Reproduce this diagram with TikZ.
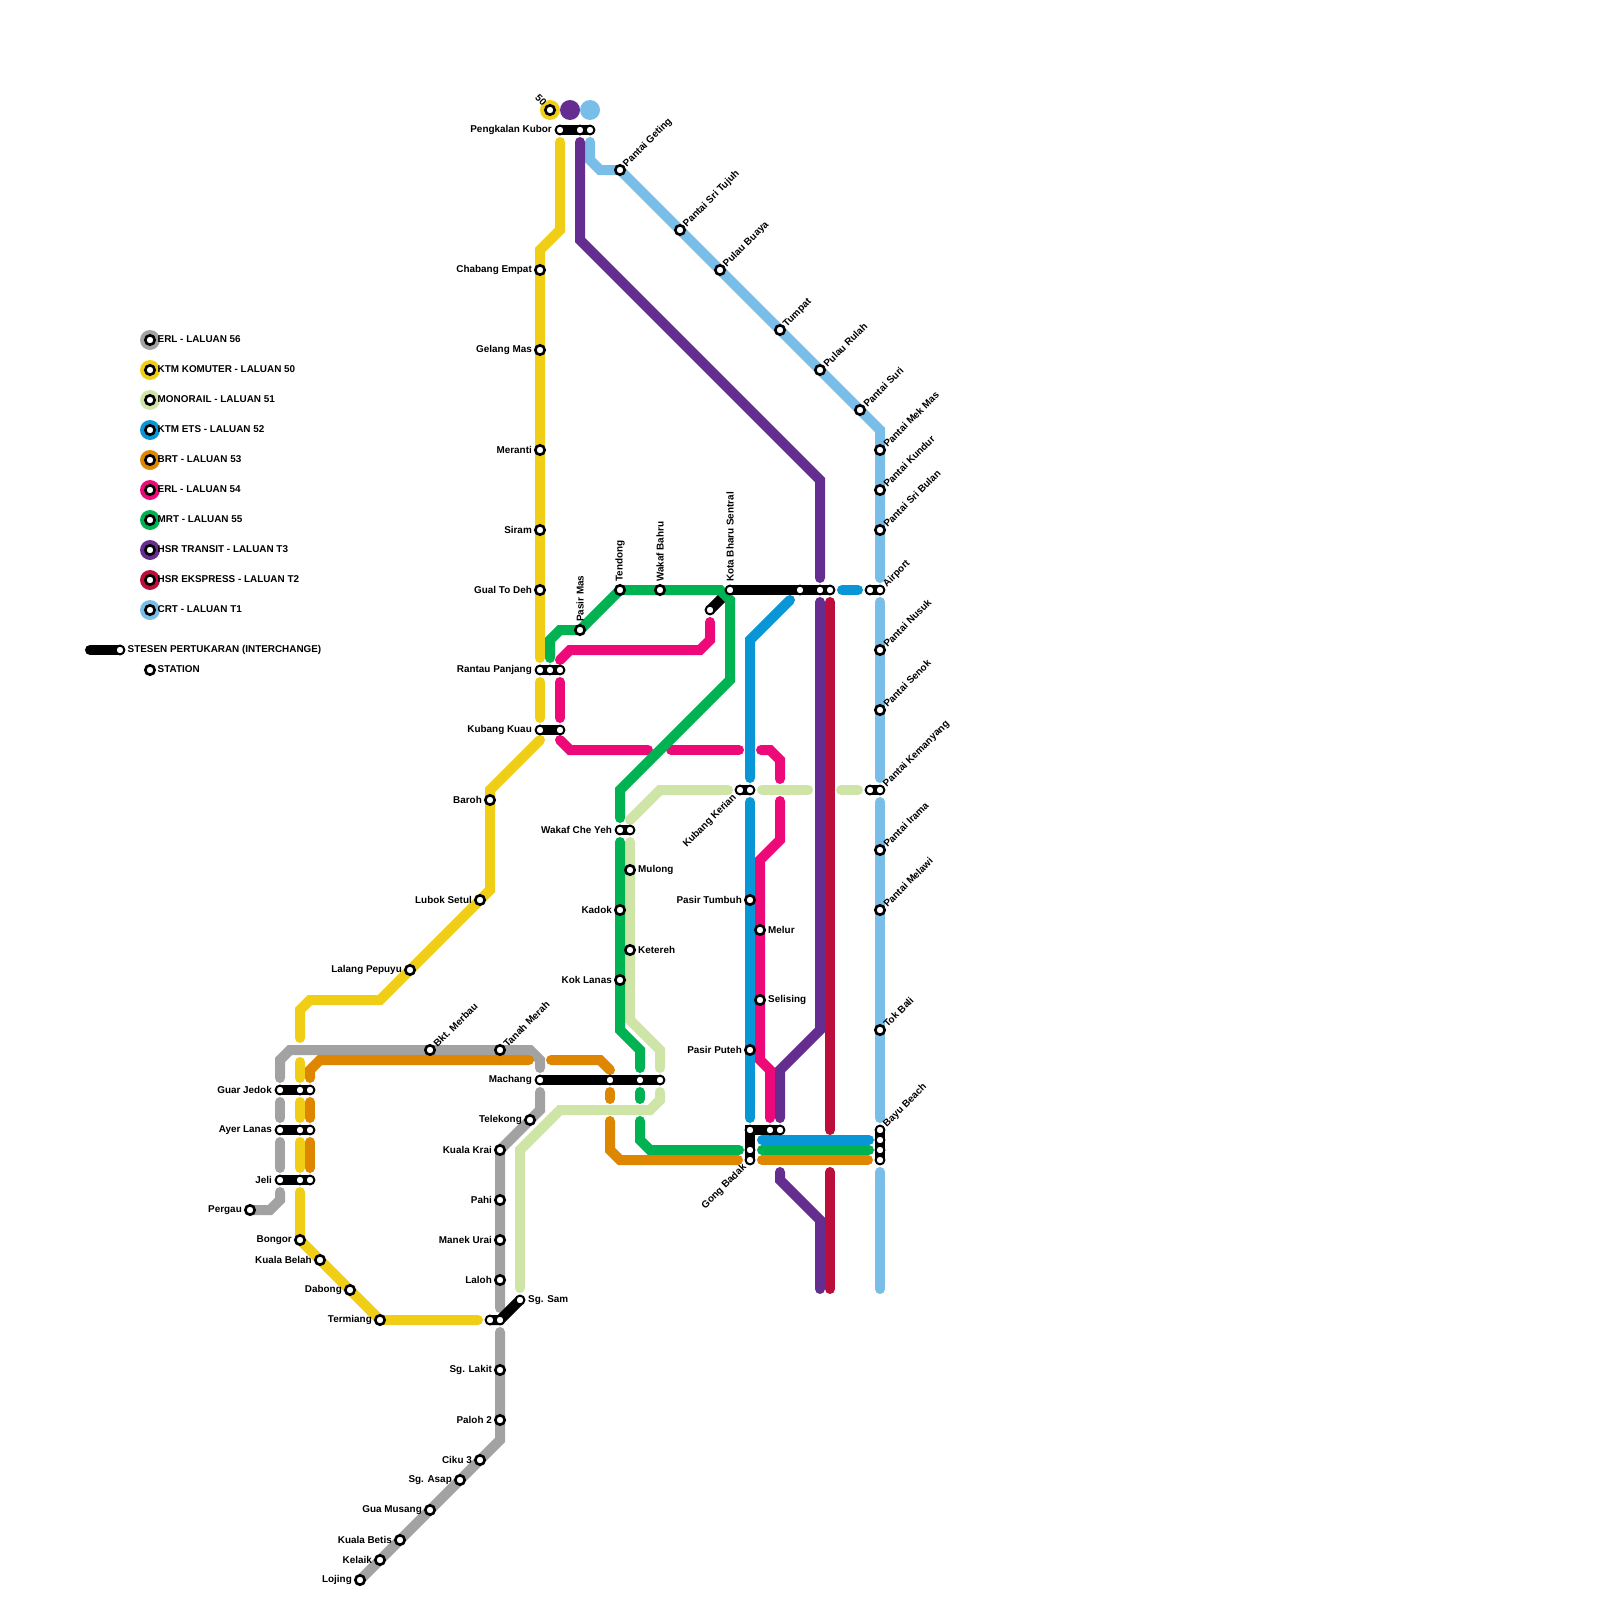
\documentclass[tikz,border=0pt]{standalone}
\usepackage{fontspec}
\setmainfont{Liberation Sans}
\usetikzlibrary{calc}
\pgfdeclarelayer{lines}
\pgfsetlayers{lines,main}
\definecolor{cyel}{HTML}{F0CE15}
\definecolor{cgry}{HTML}{A2A2A2}
\definecolor{clgr}{HTML}{CFE4A7}
\definecolor{cblu}{HTML}{0896D7}
\definecolor{cora}{HTML}{DF8600}
\definecolor{cmag}{HTML}{EE0979}
\definecolor{cgrn}{HTML}{00B251}
\definecolor{cpur}{HTML}{662D91}
\definecolor{ccri}{HTML}{BB0E3A}
\definecolor{clbl}{HTML}{79BDE9}
\tikzset{
  rail/.style={line width=10pt,line cap=round,line join=miter,miter limit=10},
  link/.style={rail,draw=black},
  stn/.style={circle,draw=black,line width=2.6pt,fill=white,minimum size=9.4pt,inner sep=0pt,outer sep=0pt},
  xstn/.style={circle,draw=black,line width=2pt,fill=white,minimum size=8.8pt,inner sep=0pt,outer sep=0pt},
  swatch/.style={circle,minimum size=20pt,inner sep=0pt,outer sep=0pt},
  txt/.style={font=\bfseries\fontsize{9.9pt}{11pt}\selectfont,inner sep=0pt,text=black},
  lblL/.style={txt,anchor=east},
  lblR/.style={txt,anchor=west},
  lblV/.style={txt,anchor=west,rotate=90},
  lblD/.style={txt,anchor=west,rotate=45},
  lblB/.style={txt,anchor=east,rotate=45},
}
\def\sU#1{($(#1.center)+(0,-12)$)}
\def\sD#1{($(#1.center)+(0,12)$)}
\def\sL#1{($(#1.center)+(-12,0)$)}
\def\sR#1{($(#1.center)+(12,0)$)}
% station macros: id, x, y, text
\newcommand{\SL}[4]{\node[stn] (#1) at (#2,#3) {}; \node[lblL] (#1-t) at (#2-8,#3-0.3) {#4};}
\newcommand{\XL}[4]{\node[xstn] (#1) at (#2,#3) {}; \node[lblL] (#1-t) at (#2-8,#3-0.3) {#4};}
\newcommand{\SR}[4]{\node[stn] (#1) at (#2,#3) {}; \node[lblR] (#1-t) at (#2+8,#3-0.3) {#4};}
\newcommand{\XR}[4]{\node[xstn] (#1) at (#2,#3) {}; \node[lblR] (#1-t) at (#2+8,#3-0.3) {#4};}
\newcommand{\SV}[4]{\node[stn] (#1) at (#2,#3) {}; \node[lblV] (#1-t) at (#2,#3-8) {#4};}
\newcommand{\XV}[4]{\node[xstn] (#1) at (#2,#3) {}; \node[lblV] (#1-t) at (#2,#3-8) {#4};}
\newcommand{\SD}[4]{\node[stn] (#1) at (#2,#3) {}; \node[lblD] (#1-t) at (#2+5,#3-4.5) {#4};}
\newcommand{\XD}[4]{\node[xstn] (#1) at (#2,#3) {}; \node[lblD] (#1-t) at (#2+5,#3-4.5) {#4};}
\newcommand{\XB}[4]{\node[xstn] (#1) at (#2,#3) {}; \node[lblB] (#1-t) at (#2-5,#3+6) {#4};}
\newcommand{\XX}[3]{\node[xstn] (#1) at (#2,#3) {};}
\newcommand{\LEG}[4]{\node[swatch,fill=#2] (#1-s) at (150,#3) {}; \node[stn] (#1) at (150,#3) {}; \node[lblR] (#1-t) at (157.5,#3-0.5) {#4};}
\begin{document}
\begin{tikzpicture}[x=1pt,y=-1pt]
\useasboundingbox (0,0) rectangle (1600,1600);
% legend
\LEG{l1}{cgry}{340}{ERL - LALUAN 56}
\LEG{l2}{cyel}{370}{KTM KOMUTER - LALUAN 50}
\LEG{l3}{clgr}{400}{MONORAIL - LALUAN 51}
\LEG{l4}{cblu}{430}{KTM ETS - LALUAN 52}
\LEG{l5}{cora}{460}{BRT - LALUAN 53}
\LEG{l6}{cmag}{490}{ERL - LALUAN 54}
\LEG{l7}{cgrn}{520}{MRT - LALUAN 55}
\LEG{l8}{cpur}{550}{HSR TRANSIT - LALUAN T3}
\LEG{l9}{ccri}{580}{HSR EKSPRESS - LALUAN T2}
\LEG{l10}{clbl}{610}{CRT - LALUAN T1}
\coordinate (lx) at (90,650);
\XX{lxe}{120}{650}
\node[lblR] (lxe-t) at (127.5,649.5) {STESEN PERTUKARAN (INTERCHANGE)};
\node[stn] (lst) at (150,670) {};
\node[lblR] (lst-t) at (157.5,669.5) {STATION};
% terminal swatches
\node[swatch,fill=cyel] (t1) at (550,110) {};
\node[swatch,fill=cpur] (t2) at (570,110) {};
\node[swatch,fill=clbl] (t3) at (590,110) {};
\node[stn] (t1s) at (550,110) {};
\node[txt,rotate=-45] (t1t) at (541,100) {50};
% yellow / north
\XL{pk}{560}{130}{Pengkalan Kubor}
\XX{pk2}{580}{130}
\XX{pk3}{590}{130}
\SL{chabang}{540}{270}{Chabang Empat}
\SL{gelang}{540}{350}{Gelang Mas}
\SL{meranti}{540}{450}{Meranti}
\SL{siram}{540}{530}{Siram}
\SL{gual}{540}{590}{Gual To Deh}
\XL{rantau}{540}{670}{Rantau Panjang}
\XX{rantau2}{550}{670}
\XX{rantau3}{560}{670}
\XL{kuau}{540}{730}{Kubang Kuau}
\XX{kuau2}{560}{730}
\SL{baroh}{490}{800}{Baroh}
\SL{lubok}{480}{900}{Lubok Setul}
\SL{lalang}{410}{970}{Lalang Pepuyu}
\XL{guar}{280}{1090}{Guar Jedok}
\XX{guar2}{300}{1090}
\XX{guar3}{310}{1090}
\XL{ayer}{280}{1130}{Ayer Lanas}
\XX{ayer2}{300}{1130}
\XX{ayer3}{310}{1130}
\XL{jeli}{280}{1180}{Jeli}
\XX{jeli2}{300}{1180}
\XX{jeli3}{310}{1180}
\SL{pergau}{250}{1210}{Pergau}
\SL{bongor}{300}{1240}{Bongor}
\SL{belah}{320}{1260}{Kuala Belah}
\SL{dabong}{350}{1290}{Dabong}
\SL{termiang}{380}{1320}{Termiang}
\XX{tm2}{490}{1320}
\XX{tm3}{500}{1320}
\XR{sam}{520}{1300}{Sg. Sam}
% grey
\SD{merbau}{430}{1050}{Bkt. Merbau}
\SD{tanah}{500}{1050}{Tanah Merah}
\XL{machang}{540}{1080}{Machang}
\XX{mach2}{610}{1080}
\XX{mach3}{640}{1080}
\XX{mach4}{660}{1080}
\SL{telekong}{530}{1120}{Telekong}
\SL{krai}{500}{1150}{Kuala Krai}
\SL{pahi}{500}{1200}{Pahi}
\SL{manek}{500}{1240}{Manek Urai}
\SL{laloh}{500}{1280}{Laloh}
\SL{lakit}{500}{1370}{Sg. Lakit}
\SL{paloh}{500}{1420}{Paloh 2}
\SL{ciku}{480}{1460}{Ciku 3}
\SL{asap}{460}{1480}{Sg. Asap}
\SL{musang}{430}{1510}{Gua Musang}
\SL{betis}{400}{1540}{Kuala Betis}
\SL{kelaik}{380}{1560}{Kelaik}
\SL{lojing}{360}{1580}{Lojing}
% green / centre
\SV{pasirmas}{580}{630}{Pasir Mas}
\SV{tendong}{620}{590}{Tendong}
\SV{bahru}{660}{590}{Wakaf Bahru}
\XV{kota}{730}{590}{Kota Bharu Sentral}
\XX{kota2}{800}{590}
\XX{kota3}{820}{590}
\XX{kota4}{830}{590}
\XX{kotab}{710}{610}
\XL{cheyeh}{620}{830}{Wakaf Che Yeh}
\XX{cheyeh2}{630}{830}
\SL{kadok}{620}{910}{Kadok}
\SL{lanas}{620}{980}{Kok Lanas}
\SR{mulong}{630}{870}{Mulong}
\SR{ketereh}{630}{950}{Ketereh}
\XB{kerian}{740}{790}{Kubang Kerian}
\XX{kerian2}{750}{790}
\SL{tumbuh}{750}{900}{Pasir Tumbuh}
\SL{puteh}{750}{1050}{Pasir Puteh}
\SR{melur}{760}{930}{Melur}
\SR{selising}{760}{1000}{Selising}
\XX{gb1}{750}{1130}
\XX{gb2}{770}{1130}
\XX{gb3}{780}{1130}
\XX{gb4}{750}{1150}
\XB{gong}{750}{1160}{Gong Badak}
% CRT
\SD{geting}{620}{170}{Pantai Geting}
\SD{tujuh}{680}{230}{Pantai Sri Tujuh}
\SD{buaya}{720}{270}{Pulau Buaya}
\SD{tumpat}{780}{330}{Tumpat}
\SD{rulah}{820}{370}{Pulau Rulah}
\SD{suri}{860}{410}{Pantai Suri}
\SD{mekmas}{880}{450}{Pantai Mek Mas}
\SD{kundur}{880}{490}{Pantai Kundur}
\SD{bulan}{880}{530}{Pantai Sri Bulan}
\XX{air1}{870}{590}
\XD{airport}{880}{590}{Airport}
\SD{nusuk}{880}{650}{Pantai Nusuk}
\SD{senok}{880}{710}{Pantai Senok}
\XX{kem1}{870}{790}
\XD{kemanyang}{880}{790}{Pantai Kemanyang}
\SD{irama}{880}{850}{Pantai Irama}
\SD{melawi}{880}{910}{Pantai Melawi}
\SD{tokbali}{880}{1030}{Tok Bali}
\XD{bayu}{880}{1130}{Bayu Beach}
\XX{bayu2}{880}{1140}
\XX{bayu3}{880}{1150}
\XX{bayu4}{880}{1160}
\begin{pgfonlayer}{lines}
% monorail
\draw[rail,draw=clgr] \sU{sam} -- (520,1150) -- (560,1110) -- (650,1110) -- (660,1100) -- \sD{mach4};
\draw[rail,draw=clgr] \sU{mach4} -- (660,1050) -- (630,1020) -- \sD{cheyeh2};
\draw[rail,draw=clgr] (630,820) -- (660,790) -- \sL{kerian};
\draw[rail,draw=clgr] \sR{kerian2} -- (808,790);
\draw[rail,draw=clgr] (841,790) -- \sL{kem1};
% grey
\draw[rail,draw=cgry] (pergau.center) -- (270,1210) -- (280,1200) -- \sD{jeli};
\draw[rail,draw=cgry] \sU{jeli} -- \sD{ayer};
\draw[rail,draw=cgry] \sU{ayer} -- \sD{guar};
\draw[rail,draw=cgry] \sU{guar} -- (280,1060) -- (290,1050) -- (530,1050) -- (540,1060) -- \sU{machang};
\draw[rail,draw=cgry] \sD{machang} -- (540,1110) -- (krai.center) -- \sU{tm3};
\draw[rail,draw=cgry] \sD{tm3} -- (500,1440) -- (lojing.center);
% black diagonal under green
\draw[link] (kotab.center) -- (722,598);
% yellow
\draw[rail,draw=cyel] \sD{pk} -- (560,230) -- (540,250) -- \sU{rantau};
\draw[rail,draw=cyel] \sD{rantau} -- \sU{kuau};
\draw[rail,draw=cyel] (540,740) -- (490,790) -- (490,890) -- (380,1000) -- (310,1000) -- (300,1010) -- (300,1038);
\draw[rail,draw=cyel] (300,1062) -- \sU{guar2};
\draw[rail,draw=cyel] \sD{guar2} -- \sU{ayer2};
\draw[rail,draw=cyel] \sD{ayer2} -- \sU{jeli2};
\draw[rail,draw=cyel] \sD{jeli2} -- (bongor.center) -- (termiang.center) -- \sL{tm2};
% orange
\draw[rail,draw=cora] (529,1060) -- (320,1060) -- (310,1070) -- \sU{guar3};
\draw[rail,draw=cora] \sD{guar3} -- \sU{ayer3};
\draw[rail,draw=cora] \sD{ayer3} -- \sU{jeli3};
\draw[rail,draw=cora] (551,1060) -- (600,1060) -- (610,1070);
\draw[rail,draw=cora] \sD{mach2} -- (610,1099);
\draw[rail,draw=cora] (610,1121) -- (610,1150) -- (620,1160) -- \sL{gong};
\draw[rail,draw=cora] \sR{gong} -- \sL{bayu4};
% magenta
\draw[rail,draw=cmag] (560,660) -- (570,650) -- (700,650) -- (710,640) -- \sD{kotab};
\draw[rail,draw=cmag] \sD{rantau3} -- \sU{kuau2};
\draw[rail,draw=cmag] (560,740) -- (570,750) -- (648,750);
\draw[rail,draw=cmag] (671,750) -- (739,750);
\draw[rail,draw=cmag] (761,750) -- (770,750) -- (780,760) -- (780,779);
\draw[rail,draw=cmag] (780,801) -- (780,840) -- (760,860) -- (760,1060) -- (770,1070) -- (770,1118);
% green
\draw[rail,draw=cgrn] \sU{rantau2} -- (550,640) -- (560,630) -- (pasirmas.center) -- (tendong.center) -- (720,590) -- (730,600) -- (730,680) -- (620,790) -- \sU{cheyeh};
\draw[rail,draw=cgrn] \sD{cheyeh} -- (620,1030) -- (640,1050) -- \sU{mach3};
\draw[rail,draw=cgrn] \sD{mach3} -- (640,1099);
\draw[rail,draw=cgrn] (640,1121) -- (640,1140) -- (650,1150) -- (739,1150);
\draw[rail,draw=cgrn] (762,1150) -- (869,1150);
% blue
\draw[rail,draw=cblu] (790,600) -- (750,640) -- \sU{kerian2};
\draw[rail,draw=cblu] \sD{kerian2} -- \sU{gb1};
\draw[rail,draw=cblu] \sR{kota4} -- \sL{air1};
\draw[rail,draw=cblu] (762,1140) -- (869,1140);
% CRT
\draw[rail,draw=clbl] (590,142) -- (590,160) -- (600,170) -- (geting.center) -- (880,430) -- \sU{airport};
\draw[rail,draw=clbl] \sD{airport} -- \sU{kemanyang};
\draw[rail,draw=clbl] \sD{kemanyang} -- \sU{bayu};
\draw[rail,draw=clbl] \sD{bayu4} -- (880,1289);
% purple
\draw[rail,draw=cpur] \sD{pk2} -- (580,240) -- (820,480) -- \sU{kota3};
\draw[rail,draw=cpur] \sD{kota3} -- (820,1030) -- (780,1070) -- \sU{gb3};
\draw[rail,draw=cpur] (780,1172) -- (780,1180) -- (820,1220) -- (820,1289);
% crimson
\draw[rail,draw=ccri] \sD{kota4} -- (830,1130);
\draw[rail,draw=ccri] (830,1172) -- (830,1289);
% interchanges
\draw[link] (lx) -- (lxe.center);
\draw[link] (pk.center) -- (pk3.center);
\draw[link] (rantau.center) -- (rantau3.center);
\draw[link] (kuau.center) -- (kuau2.center);
\draw[link] (guar.center) -- (guar3.center);
\draw[link] (ayer.center) -- (ayer3.center);
\draw[link] (jeli.center) -- (jeli3.center);
\draw[link] (tm2.center) -- (tm3.center) -- (sam.center);
\draw[link] (machang.center) -- (mach4.center);
\draw[link] (kota.center) -- (kota4.center);
\draw[link] (cheyeh.center) -- (cheyeh2.center);
\draw[link] (kerian.center) -- (kerian2.center);
\draw[link] (air1.center) -- (airport.center);
\draw[link] (kem1.center) -- (kemanyang.center);
\draw[link] (gb3.center) -- (gb1.center) -- (gong.center);
\draw[link] (bayu.center) -- (bayu4.center);
\end{pgfonlayer}
\end{tikzpicture}
\end{document}
